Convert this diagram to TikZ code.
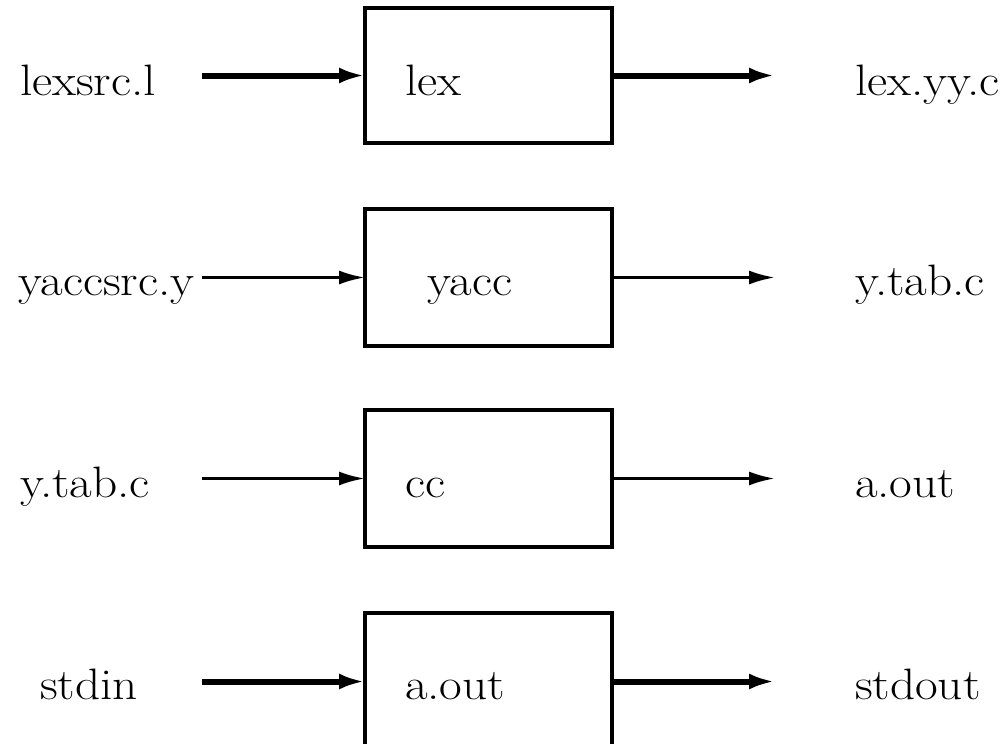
\documentclass[tikz,border=0pt]{standalone}
\usepackage{graphicx}
\usetikzlibrary{arrows.meta}
\newcommand{\widetext}[1]{\scalebox{1.12}[1]{#1}}
\begin{document}
\begin{tikzpicture}[x=1pt,y=-1pt,
  every node/.style={inner sep=0pt,outer sep=0pt,font=\fontsize{44}{52}\selectfont},
  toolbox/.style={draw,line width=4pt,minimum width=247pt,minimum height=137pt,anchor=north west},
  lbl/.style={anchor=base west},
  heavy/.style={line width=6pt,-{Latex[length=26pt,width=16pt]}},
  light/.style={line width=3pt,-{Latex[length=26pt,width=14pt]}}]
  \clip (0,0) rectangle (1005,744);
  \useasboundingbox (0,0) rectangle (1005,744);

  % the four program boxes
  \node[toolbox,minimum height=135pt] (lex)  at (365,8)   {};
  \node[toolbox] (yacc) at (365,209) {};
  \node[toolbox] (cc)   at (365,410) {};
  \node[toolbox] (run)  at (365,613) {};

  % names inside the boxes
  \node[lbl] (lexname)  at (405,95)  {\widetext{lex}};
  \node[lbl] (yaccname) at (427,295) {\widetext{yacc}};
  \node[lbl] (ccname)   at (405,497) {\widetext{cc}};
  \node[lbl] (runname)  at (405,699) {\widetext{a.out}};

  % input files
  \node[lbl] (in1) at (20,95)  {\widetext{lexsrc.l}};
  \node[lbl] (in2) at (18,295) {\widetext{yaccsrc.y}};
  \node[lbl] (in3) at (20,497) {\widetext{y.tab.c}};
  \node[lbl] (in4) at (40,699) {\widetext{stdin}};

  % output files
  \node[lbl] (out1) at (855,95)  {\widetext{lex.yy.c}};
  \node[lbl] (out2) at (855,295) {\widetext{y.tab.c}};
  \node[lbl] (out3) at (855,497) {\widetext{a.out}};
  \node[lbl] (out4) at (855,699) {\widetext{stdout}};

  % free ends of the connectors
  \coordinate (s1) at (202,0 |- lex.west);
  \coordinate (s2) at (202,0 |- yacc.west);
  \coordinate (s3) at (202,0 |- cc.west);
  \coordinate (s4) at (202,0 |- run.west);
  \coordinate (e1) at (775,0 |- lex.east);
  \coordinate (e2) at (775,0 |- yacc.east);
  \coordinate (e3) at (775,0 |- cc.east);
  \coordinate (e4) at (775,0 |- run.east);

  \draw[heavy] (s1) -- (lex.west);
  \draw[heavy] (lex.east) -- (e1);
  \draw[light] (s2) -- (yacc.west);
  \draw[light] (yacc.east) -- (e2);
  \draw[light] (s3) -- (cc.west);
  \draw[light] (cc.east) -- (e3);
  \draw[heavy] (s4) -- (run.west);
  \draw[heavy] (run.east) -- (e4);
\end{tikzpicture}
\end{document}
